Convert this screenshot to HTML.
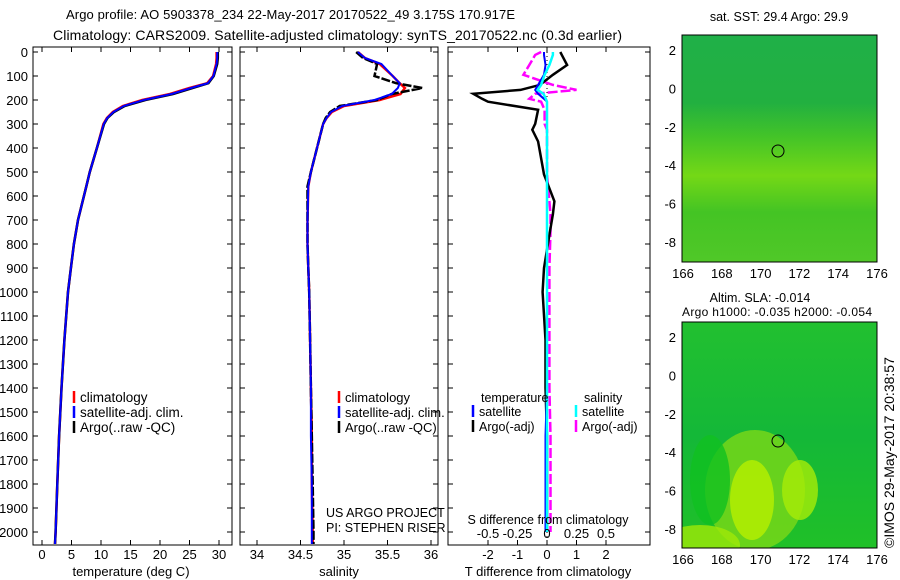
<!DOCTYPE html>
<html><head><meta charset="utf-8"><style>
body{margin:0;background:#fff;}
svg{display:block;font-family:"Liberation Sans",sans-serif;}
</style></head><body>
<svg id="c" width="900" height="580" viewBox="0 0 900 580">
<defs>
<linearGradient id="g1" x1="0" y1="0" x2="0" y2="1">
<stop offset="0" stop-color="#20b048"/><stop offset="0.3" stop-color="#22b040"/><stop offset="0.45" stop-color="#44c428"/><stop offset="0.62" stop-color="#74d816"/><stop offset="0.78" stop-color="#44c424"/><stop offset="1" stop-color="#50c828"/>
</linearGradient>
<linearGradient id="g2" x1="0" y1="0" x2="0" y2="1">
<stop offset="0" stop-color="#22c030"/><stop offset="0.5" stop-color="#14b838"/><stop offset="1" stop-color="#20c028"/>
</linearGradient>
<clipPath id="m2c"><rect x="682" y="322" width="195" height="226"/></clipPath>
</defs>
<text x="66" y="19" font-size="13" textLength="449">Argo profile: AO 5903378_234 22-May-2017 20170522_49 3.175S 170.917E</text>
<text x="53" y="40" font-size="14" textLength="569">Climatology: CARS2009. Satellite-adjusted climatology: synTS_20170522.nc (0.3d earlier)</text>
<g id="plots"></g>
<text x="779" y="21" font-size="12.5" text-anchor="middle">sat. SST: 29.4  Argo: 29.9</text>
<rect x="682" y="35" width="195" height="227" fill="url(#g1)"/>
<rect x="682" y="35" width="195" height="227" fill="none" stroke="#000"/>
<circle cx="778" cy="151" r="6" fill="none" stroke="#000"/>
<text x="760" y="302" font-size="12.5" text-anchor="middle">Altim. SLA: -0.014</text>
<text x="682" y="316" font-size="12" textLength="190">Argo h1000: -0.035 h2000: -0.054</text>
<rect x="682" y="322" width="195" height="226" fill="url(#g2)"/>
<g clip-path="url(#m2c)">
<ellipse cx="755" cy="490" rx="50" ry="60" fill="#7cd818" opacity="0.8"/>
<ellipse cx="752" cy="500" rx="22" ry="40" fill="#b8f000" opacity="0.8"/>
<ellipse cx="800" cy="490" rx="18" ry="30" fill="#a8ec08" opacity="0.8"/>
<ellipse cx="700" cy="545" rx="40" ry="20" fill="#a0e808" opacity="0.8"/>
<ellipse cx="710" cy="480" rx="20" ry="45" fill="#10c020" opacity="0.8"/>
</g>
<rect x="682" y="322" width="195" height="226" fill="none" stroke="#000"/>
<circle cx="778" cy="441" r="6" fill="none" stroke="#000"/>
<text transform="translate(894,548) rotate(-90)" font-size="14">©IMOS 29-May-2017 20:38:57</text>
</svg>
<script>
var depths=[0,25,50,100,130,150,175,200,225,250,275,300,400,500,560,700,800,900,1000,1200,1400,1600,1800,2000,2050];
var tempArgo=[29.8,29.8,29.7,29.1,28.2,25.5,22.2,17.5,14,12.2,11.1,10.5,9.3,8.1,7.5,6.1,5.4,4.9,4.4,3.8,3.3,2.9,2.6,2.3,2.2];
var tempClim=[29.6,29.6,29.5,29,28,25,21.7,17,13.7,12,11,10.4,9.3,8.1,7.5,6.1,5.4,4.9,4.4,3.8,3.3,2.9,2.6,2.3,2.2];
var salArgo=[35.14,35.22,35.38,35.35,35.6,35.9,35.55,35.38,34.95,34.84,34.79,34.76,34.69,34.62,34.58,34.58,34.58,34.59,34.6,34.61,34.62,34.63,34.64,34.65,34.65];
var salClim=[35.16,35.24,35.41,35.56,35.64,35.7,35.65,35.41,35.0,34.86,34.8,34.76,34.69,34.62,34.59,34.58,34.58,34.59,34.6,34.61,34.62,34.63,34.63,34.64,34.64];
var salSat=[35.16,35.24,35.43,35.56,35.64,35.62,35.55,35.35,34.98,34.85,34.8,34.76,34.69,34.62,34.59,34.58,34.58,34.59,34.6,34.61,34.62,34.62,34.63,34.63,34.63];
var diffDepths=[0,12,54,95,137,158,174,195,207,241,299,324,373,510,622,676,747,900,1000,1200,1400,1600,2000];
var tDiffArgo=[0.45,0.5,0.68,0.2,-0.24,-0.9,-2.5,-2.2,-2.0,-0.3,-0.4,-0.5,-0.3,-0.1,0.25,0.2,0.1,-0.1,-0.15,-0.05,-0.05,0,0];
var sDiffArgo=[-0.05,-0.1,-0.15,-0.2,0.05,0.25,-0.1,-0.15,-0.05,-0.02,-0.02,0,0,0,0.02,0.03,0.03,0.02,0.02,0.02,0.02,0.03,0.03];
var tDiffSat=[-0.1,-0.1,-0.05,-0.1,-0.3,-0.4,-0.3,-0.1,0,0,0,0,0,0,0,0,0,0,0,0,0,-0.05,-0.05];
var sDiffSat=[0.05,0.05,0.02,-0.02,-0.05,-0.08,-0.03,-0.01,0,0,0,0,0,0,0,0,0,0,0,0,0,0,0];
var depthTicks=[0,100,200,300,400,500,600,700,800,900,1000,1100,1200,1300,1400,1500,1600,1700,1800,1900,2000];
var tempTicks=[0,5,10,15,20,25,30];
var salTicks=[34,34.5,35,35.5,36];
var tdTicks=[-2,-1,0,1,2];
var sdTicks=[-0.5,-0.25,0,0.25,0.5];

var NS='http://www.w3.org/2000/svg',G=document.getElementById('plots');
function el(t,a,p){var e=document.createElementNS(NS,t);for(var k in a)e.setAttribute(k,a[k]);(p||G).appendChild(e);return e;}
var Y0=52,YS=0.24,YB=545;
function yD(d){return Y0+d*YS;}
function xT(v){return 42+v*5.9;}
function xS(v){return 257+(v-34)*87;}
function xTD(v){return 547+v*29.5;}
function xSD(v){return 547+v*118;}
function frame(x1,x2,name){var r=el('rect',{x:x1,y:47,width:x2-x1,height:YB-47,fill:'none',stroke:'#000'});


depthTicks.forEach(function(d){el('line',{x1:x1,x2:x1+5,y1:yD(d),y2:yD(d),stroke:'#000'});el('line',{x1:x2,x2:x2-5,y1:yD(d),y2:yD(d),stroke:'#000'});});}
function line(xs,fx,ys,color,w,name,dash){var pts=xs.map(function(v,i){return fx(v).toFixed(1)+','+yD(ys[i]).toFixed(1);}).join(' ');
var p=el('polyline',{points:pts,fill:'none',stroke:color,'stroke-width':w});if(dash)p.setAttribute('stroke-dasharray',dash);

}
function txt(x,y,s,name,sz,anchor){var t=el('text',{x:x,y:y,'font-size':sz||13});if(anchor)t.setAttribute('text-anchor',anchor);t.textContent=s;

}
function xticks(ticks,fx,ty){ticks.forEach(function(t){var x=fx(t);
el('line',{x1:x,x2:x,y1:YB,y2:YB-5,stroke:'#000'});el('line',{x1:x,x2:x,y1:47,y2:52,stroke:'#000'});
txt(x,ty,t,'x-tick-label',13,'middle');});}
frame(33,232,'temperature-panel');
depthTicks.forEach(function(d){txt(28,yD(d)+5,d,'y-tick-label',13,'end');});
line(tempClim,xT,depths,'#f00',2.5,'temp-climatology');
line(tempArgo,xT,depths,'#000',2.5,'temp-argo');
line(tempClim.map(function(v,i){return (v+tempArgo[i])/2;}),xT,depths,'#00f',2,'temp-satellite-adj');
xticks(tempTicks,xT,559);
txt(131,576,'temperature (deg C)','x-axis-title-temp',13,'middle');
frame(240,438,'salinity-panel');
line(salClim,xS,depths,'#f00',2.5,'sal-climatology');
line(salArgo,xS,depths,'#000',2.5,'sal-argo','9,2');
line(salSat,xS,depths,'#00f',2,'sal-satellite-adj');
xticks(salTicks,xS,559);
txt(339,576,'salinity','x-axis-title-sal',13,'middle');
frame(448,650,'difference-panel');
el('line',{x1:547,x2:547,y1:52,y2:YB,stroke:'#000','stroke-dasharray':'1,3'});
line(sDiffArgo,xSD,diffDepths,'#f0f',2.5,'sal-diff-argo','10,3');
line(tDiffArgo,xTD,diffDepths,'#000',2.5,'temp-diff-argo');
line(tDiffSat,xTD,diffDepths,'#00f',2,'temp-diff-satellite');
line(sDiffSat,xSD,diffDepths,'#0ff',2.5,'sal-diff-satellite');
xticks(tdTicks,xTD,559);
sdTicks.forEach(function(t){txt(xSD(t),538,t,'s-tick-label',13,'middle');});
txt(548,524,'S difference from climatology','s-axis-title',12.5,'middle');
txt(548,576,'T difference from climatology','t-axis-title',13,'middle');
function leg(x,y,items,name,sz){items.forEach(function(it,i){var yy=y+i*15;
var l=el('line',{x1:x,x2:x,y1:yy-11,y2:yy+1,stroke:it[1],'stroke-width':2.5});


txt(x+6,yy,it[0],name+'-entry',sz||13);});}
leg(74,402,[['climatology','#f00'],['satellite-adj. clim.','#00f'],['Argo(..raw -QC)','#000']],'temp-legend',13.5);
leg(339,402,[['climatology','#f00'],['satellite-adj. clim.','#00f'],['Argo(..raw -QC)','#000']],'sal-legend',13);
txt(481,402,'temperature','legend-temp-header',12.5);
txt(584,402,'salinity','legend-sal-header',12.5);
leg(473,416,[['satellite','#00f'],['Argo(-adj)','#000']],'tdiff-legend',12.5);
leg(576,416,[['satellite','#0ff'],['Argo(-adj)','#f0f']],'sdiff-legend',12.5);
txt(326,517,'US ARGO PROJECT','project-label',12.5);
txt(326,532,'PI: STEPHEN RISER','pi-label',12.5);
function mapAxes(yBot,y2px,name){for(var lon=166;lon<=176;lon+=2){var x=683+(lon-166)*19.4;
el('line',{x1:x,x2:x,y1:yBot,y2:yBot-5,stroke:'#000'});txt(x,yBot+16,lon,name+'-lon-label',13,'middle');}
for(var lat=2;lat>=-8;lat-=2){var y=y2px+(2-lat)*19.2;el('line',{x1:682,x2:687,y1:y,y2:y,stroke:'#000'});el('line',{x1:877,x2:872,y1:y,y2:y,stroke:'#000'});
txt(676,y+5,lat,name+'-lat-label',13,'end');}}
mapAxes(262,50,'sst-map');
mapAxes(548,337,'sla-map');
</script>
</body></html>
